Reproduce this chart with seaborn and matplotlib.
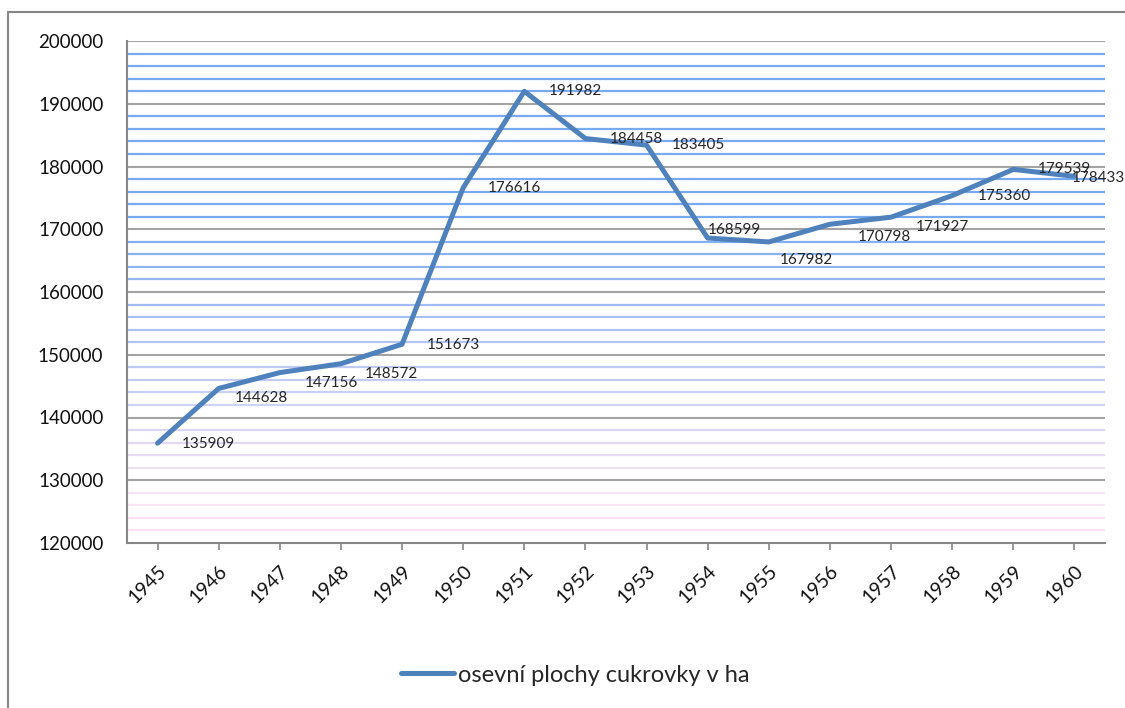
import numpy as np
import pandas as pd
import matplotlib
matplotlib.use("Agg")
import matplotlib.pyplot as plt
import matplotlib.colors as mcolors
from matplotlib.patches import Rectangle
import seaborn as sns

# data
years = ["1945", "1946", "1947", "1948", "1949", "1950", "1951", "1952",
         "1953", "1954", "1955", "1956", "1957", "1958", "1959", "1960"]
plocha = [135909, 144628, 147156, 148572, 151673, 176616, 191982, 184458,
          183405, 168599, 167982, 170798, 171927, 175360, 179539, 178433]
series_name = "osevní plochy cukrovky v ha"

# label offsets in pixels (dx, dy down), as placed in the original
label_off = [(51, 1), (43, 10), (52, 10), (50, 10), (51, 1), (51, 0), (51, 0), (51, 0),
             (52, 0), (27, -8), (38, 18), (54, 13), (51, 10), (52, 0), (51, 0), (24, 2)]

sns.set_theme(style="white")
plt.rcParams['font.family'] = ['Lato', 'DejaVu Sans']

df = pd.DataFrame({"rok": years, "plocha": plocha})

fig = plt.figure(figsize=(11.25, 7.08), dpi=100)
ax = fig.add_axes([127 / 1125, 1 - 543 / 708, 978 / 1125, 502 / 708])

ax.set_ylim(120000, 200000)
ax.set_xlim(-0.5, len(years) - 0.5)

# minor gridlines (every 2000) with the blue -> pink fade
minor = np.arange(122000, 200000, 2000)
minor = minor[minor % 10000 != 0]
blue = np.array(mcolors.to_rgb("#78aaf0"))
pink = np.array(mcolors.to_rgb("#f8e4f2"))
cols = []
for v in minor:
    t = (v - 120000) / 80000
    t = min(1, max(0, (t - 0.1) / 0.55))
    cols.append(tuple(pink * (1 - t) + blue * t))
ax.hlines(minor, -0.5, len(years) - 0.5, colors=cols, linewidth=1.6, zorder=1)

# major gridlines
major = np.arange(130000, 200001, 10000)
ax.hlines(major, -0.5, len(years) - 0.5, colors="#a3a3a3", linewidth=1.5, zorder=1)

sns.lineplot(data=df, x="rok", y="plocha", ax=ax, color="#4f81bd",
             linewidth=3.6, sort=False, label=series_name, zorder=3)

for i, (y, v) in enumerate(zip(years, plocha)):
    dx, dy = label_off[i]
    ax.annotate(str(v), (i, v), xytext=(dx * 0.72, -dy * 0.72), textcoords="offset points",
                ha="center", va="center", fontsize=11, color="#262626",
                annotation_clip=False, zorder=4)

ax.set_yticks(np.arange(120000, 200001, 10000))
ax.set_yticklabels([str(v) for v in np.arange(120000, 200001, 10000)])
ax.tick_params(axis="y", length=0, pad=17, labelsize=13.5, labelcolor="#111111")
ax.tick_params(axis="x", length=5, width=1.2, color="#868686", pad=9,
               labelsize=14, labelcolor="#111111", direction="out", bottom=True)
plt.setp(ax.get_xticklabels(), rotation=45, ha="right", rotation_mode="anchor")
ax.set_xlabel("")
ax.set_ylabel("")

for side in ["top", "right"]:
    ax.spines[side].set_visible(False)
for side in ["left", "bottom"]:
    ax.spines[side].set_color("#868686")
    ax.spines[side].set_linewidth(1.5)

ax.get_legend().remove()
fig.legend(*ax.get_legend_handles_labels(), loc="center",
           bbox_to_anchor=(575 / 1125, 1 - 675 / 708), frameon=False,
           fontsize=17, handlelength=2.25, handletextpad=0.15)

# outer chart frame
fig.patches.append(Rectangle((8 / 1125, -0.1), 1.2, 1.1 - 12 / 708,
                             transform=fig.transFigure, fill=False,
                             edgecolor="#868686", linewidth=1.5))

fig.savefig("out.png", dpi=100)
